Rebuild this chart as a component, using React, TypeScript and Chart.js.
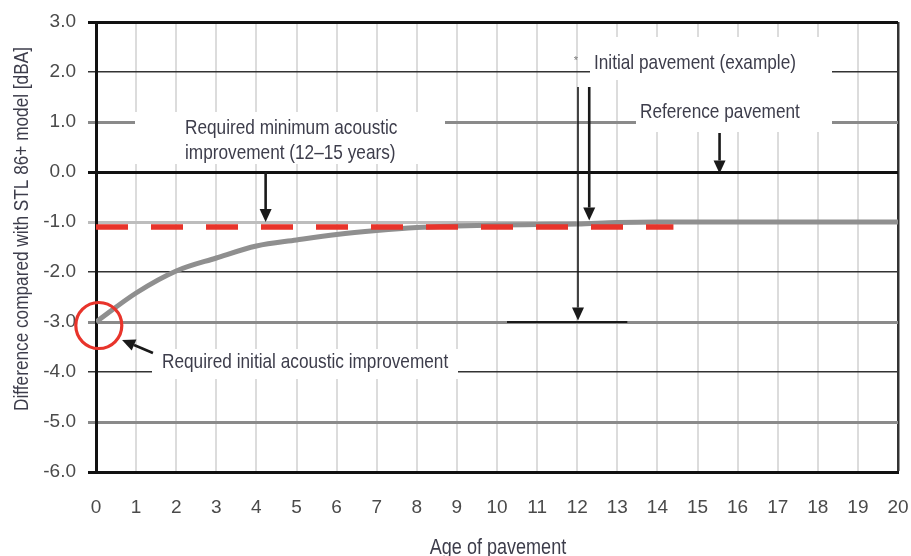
import React, { useEffect, useRef } from "react";
import { Chart, registerables } from "chart.js";

Chart.register(...registerables);

// ---- data ----
const ages = [0, 1, 2, 3, 4, 5, 6, 7, 8, 9, 10, 11, 12, 13, 14, 15, 16, 17, 18, 19, 20];
const initialPavement = [-3.0, -2.42, -1.98, -1.72, -1.48, -1.36, -1.25, -1.17, -1.11, -1.08, -1.06, -1.05, -1.04, -1.01, -1.0, -1.0, -1.0, -1.0, -1.0, -1.0, -1.0];
const requiredMinimumAges = [0, 14.4];
const requiredMinimumLevel = [-1.1, -1.1];
const yMin = -6;
const yMax = 3;
const xMin = 0;
const xMax = 20;

const FONT = '"Liberation Sans", Arial, sans-serif';
const TEXT = "#3d3d4b";
const RED = "#e8342b";
const SQUEEZE = 0.82;

function gridStyle(v: number): [string, number] {
  if (v === 3 || v === -6 || v === 0) return ["#111", 3];
  if (v === 2 || v === -2 || v === -4) return ["#333", 1.5];
  if (v === -1) return ["#bdbdbd", 3];
  return ["#8a8a8a", 3];
}

function narrowText(ctx: CanvasRenderingContext2D, text: string, x: number, y: number, rot = 0, align: CanvasTextAlign = "left") {
  ctx.save();
  ctx.translate(x, y);
  if (rot) ctx.rotate(rot);
  ctx.scale(SQUEEZE, 1);
  ctx.textAlign = align;
  ctx.fillText(text, 0, 0);
  ctx.restore();
}

function arrow(ctx: CanvasRenderingContext2D, x1: number, y1: number, x2: number, y2: number, w: number) {
  const ang = Math.atan2(y2 - y1, x2 - x1);
  const len = 13, hw = 6;
  const bx = x2 - len * Math.cos(ang), by = y2 - len * Math.sin(ang);
  ctx.beginPath();
  ctx.lineWidth = w;
  ctx.moveTo(x1, y1);
  ctx.lineTo(bx, by);
  ctx.stroke();
  ctx.beginPath();
  ctx.moveTo(x2, y2);
  ctx.lineTo(bx + hw * Math.sin(ang), by - hw * Math.cos(ang));
  ctx.lineTo(bx - hw * Math.sin(ang), by + hw * Math.cos(ang));
  ctx.closePath();
  ctx.fill();
}

const annotations = {
  id: "annotations",
  beforeDatasetsDraw(chart: any) {
    const { ctx } = chart;
    ctx.save();
    ctx.fillStyle = "#fff";
    const boxes = [
      [590, 37, 242, 43],
      [636, 80, 196, 52],
      [135, 112, 310, 52],
      [152, 349, 306, 30],
    ];
    boxes.forEach(([x, y, w, h]) => ctx.fillRect(x, y, w, h));

    ctx.fillStyle = TEXT;
    ctx.font = `21px ${FONT}`;
    ctx.textBaseline = "alphabetic";
    narrowText(ctx, "Initial pavement (example)", 594, 69);
    narrowText(ctx, "Reference pavement", 640, 118);
    narrowText(ctx, "Required minimum acoustic", 185, 134);
    narrowText(ctx, "improvement (12\u201315 years)", 185, 159);
    narrowText(ctx, "Required initial acoustic improvement", 162, 368);

    // axis titles
    narrowText(ctx, "Difference compared with STL 86+ model [dBA]", 28, 229, -Math.PI / 2, "center");
    ctx.font = `22px ${FONT}`;
    narrowText(ctx, "Age of pavement", 498, 554, 0, "center");

    ctx.font = `11px ${FONT}`;
    ctx.fillStyle = "#777";
    ctx.textAlign = "center";
    ctx.fillText("*", 576, 64);
    ctx.restore();
  },
  afterDatasetsDraw(chart: any) {
    const { ctx } = chart;
    const sx = chart.scales.x, sy = chart.scales.y;
    const X = (v: number) => sx.getPixelForValue(v);
    const Y = (v: number) => sy.getPixelForValue(v);
    ctx.save();
    ctx.strokeStyle = "#1a1a1a";
    ctx.fillStyle = "#1a1a1a";
    ctx.beginPath();
    ctx.lineWidth = 2;
    ctx.moveTo(X(10.25), Y(-3));
    ctx.lineTo(X(13.25), Y(-3));
    ctx.stroke();
    arrow(ctx, X(12.02), Y(1.7), X(12.02), Y(-2.97), 1.6);
    arrow(ctx, X(12.3), Y(1.7), X(12.3), Y(-0.97), 2.6);
    arrow(ctx, X(15.55), Y(0.78), X(15.55), Y(-0.03), 2.6);
    arrow(ctx, X(4.23), Y(0), X(4.23), Y(-1.0), 2.6);
    arrow(ctx, X(1.42), Y(-3.62), X(0.65), Y(-3.36), 2.6);
    ctx.beginPath();
    ctx.strokeStyle = RED;
    ctx.lineWidth = 3.2;
    ctx.arc(X(0.07), Y(-3.07), 23, 0, Math.PI * 2);
    ctx.stroke();
    ctx.restore();
  },
};

export default function App() {
  const ref = useRef<HTMLCanvasElement | null>(null);
  useEffect(() => {
    if (!ref.current) return;
    const chart = new Chart(ref.current, {
      type: "line",
      data: {
        datasets: [
          {
            label: "Initial pavement (example)",
            data: ages.map((a, i) => ({ x: a, y: initialPavement[i] })),
            borderColor: "#8f8f8f",
            borderWidth: 5,
            pointRadius: 0,
            cubicInterpolationMode: "monotone",
            order: 2,
          },
          {
            label: "Required minimum acoustic improvement",
            data: requiredMinimumAges.map((a, i) => ({ x: a, y: requiredMinimumLevel[i] })),
            borderColor: RED,
            borderWidth: 5.5,
            borderDash: [32, 23],
            pointRadius: 0,
            order: 1,
          },
        ],
      },
      options: {
        responsive: false,
        animation: false,
        devicePixelRatio: 1,
        layout: { padding: { left: 0, right: 13, top: 22, bottom: 0 } },
        plugins: { legend: { display: false }, tooltip: { enabled: false } },
        scales: {
          x: {
            type: "linear",
            min: xMin,
            max: xMax,
            ticks: {
              stepSize: 1,
              padding: 24,
              color: "#4a4a4a",
              font: { family: FONT, size: 19 },
            },
            grid: {
              drawTicks: false,
              color: (c: any) => (c.tick && c.tick.value === xMax ? "#333" : "#dcdcdc"),
              lineWidth: (c: any) => (c.tick && c.tick.value === xMax ? 2.5 : 2),
            },
            border: { display: true, color: "#111", width: 3 },
            afterFit: (s: any) => {
              s.height = 84;
              s.paddingLeft = 0;
              s.paddingRight = 0;
            },
          },
          y: {
            type: "linear",
            min: yMin,
            max: yMax,
            ticks: {
              stepSize: 1,
              padding: 12,
              color: "#4a4a4a",
              font: { family: FONT, size: 19 },
              callback: (v: any) => Number(v).toFixed(1),
            },
            grid: {
              drawTicks: true,
              tickLength: 8,
              color: (c: any) => gridStyle(c.tick ? c.tick.value : 0)[0],
              lineWidth: (c: any) => gridStyle(c.tick ? c.tick.value : 0)[1],
              tickColor: (c: any) => gridStyle(c.tick ? c.tick.value : 0)[0],
              tickWidth: (c: any) => gridStyle(c.tick ? c.tick.value : 0)[1],
            },
            border: { display: true, color: "#111", width: 3 },
            afterFit: (s: any) => {
              s.width = 96;
              s.paddingTop = 0;
              s.paddingBottom = 0;
            },
          },
        },
      },
      plugins: [annotations],
    } as any);
    return () => chart.destroy();
  }, []);
  return (
    <div style={{ position: "fixed", left: 0, top: 0, width: 911, height: 556, background: "#fff" }}>
      <canvas ref={ref} width={911} height={556} />
    </div>
  );
}
